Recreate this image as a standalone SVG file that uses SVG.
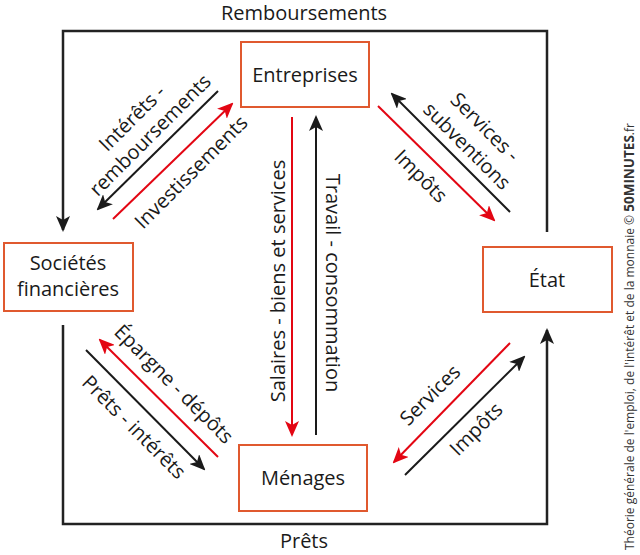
<svg xmlns="http://www.w3.org/2000/svg" width="640" height="555" viewBox="0 0 640 555">
<style>
  .box { fill: #ffffff; stroke: #e0592f; stroke-width: 2; }
  .lbl { font-family: "Open Sans", "DejaVu Sans", sans-serif; font-size: 20px; fill: #1a1a1a; text-anchor: middle; }
  .frame { fill: none; stroke: #222222; stroke-width: 2.5; }
  .k { stroke: #1a1a1a; stroke-width: 2; fill: none; }
  .r { stroke: #e30613; stroke-width: 2; fill: none; }
  .credit { font-family: "Open Sans", "DejaVu Sans", sans-serif; font-size: 12px; fill: #333333; }
</style>
<defs>
  <marker id="ahk" viewBox="0 0 16 14" refX="14" refY="7" markerWidth="16" markerHeight="14" markerUnits="userSpaceOnUse" orient="auto">
    <path d="M16,7 L0,0 L4,7 L0,14 Z" fill="#1a1a1a"/>
  </marker>
  <marker id="ahr" viewBox="0 0 16 14" refX="14" refY="7" markerWidth="16" markerHeight="14" markerUnits="userSpaceOnUse" orient="auto">
    <path d="M16,7 L0,0 L4,7 L0,14 Z" fill="#e30613"/>
  </marker>
</defs>
<rect width="640" height="555" fill="#ffffff"/>

<g id="connectors">
  <path class="frame" d="M547,232 V31 H63 V230" marker-end="url(#ahk)"/>
  <path class="frame" d="M63,325 V524 H547 V330" marker-end="url(#ahk)"/>
  <line class="k" x1="218" y1="91" x2="98" y2="209" marker-end="url(#ahk)"/>
  <line class="r" x1="113" y1="219" x2="232" y2="104" marker-end="url(#ahr)"/>
  <line class="k" x1="510" y1="212" x2="392" y2="94" marker-end="url(#ahk)"/>
  <line class="r" x1="378" y1="106" x2="494" y2="220" marker-end="url(#ahr)"/>
  <line class="r" x1="218" y1="457" x2="100" y2="340" marker-end="url(#ahr)"/>
  <line class="k" x1="86" y1="350" x2="204" y2="469" marker-end="url(#ahk)"/>
  <line class="r" x1="510" y1="343" x2="394" y2="462" marker-end="url(#ahr)"/>
  <line class="k" x1="405" y1="475" x2="524" y2="357" marker-end="url(#ahk)"/>
  <line class="r" x1="292" y1="117" x2="292" y2="435" marker-end="url(#ahr)"/>
  <line class="k" x1="316" y1="435" x2="316" y2="117" marker-end="url(#ahk)"/>
</g>

<g id="connector-labels">
  <text class="lbl" x="304" y="20">Remboursements</text>
  <text class="lbl" x="304" y="548">Prêts</text>
  <text class="lbl" transform="translate(132,118) rotate(-45)" y="7">Intérêts -</text>
  <text class="lbl" transform="translate(150,135) rotate(-45)" y="7">remboursements</text>
  <text class="lbl" transform="translate(191,172) rotate(-45)" y="7">Investissements</text>
  <text class="lbl" transform="translate(485,127) rotate(45)" y="7">Services -</text>
  <text class="lbl" transform="translate(467,146) rotate(45)" y="7">subventions</text>
  <text class="lbl" transform="translate(421,176) rotate(45)" y="7">Impôts</text>
  <text class="lbl" transform="translate(174,384) rotate(45)" y="7">Épargne - dépôts</text>
  <text class="lbl" transform="translate(134,427) rotate(45)" y="7">Prêts - intérêts</text>
  <text class="lbl" transform="translate(430,395) rotate(-45)" y="7">Services</text>
  <text class="lbl" transform="translate(476,429) rotate(-45)" y="7">Impôts</text>
  <text class="lbl" transform="translate(278,281) rotate(-90)" y="7">Salaires - biens et services</text>
  <text class="lbl" transform="translate(333,283) rotate(90)" y="7">Travail - consommation</text>
</g>

<g id="node-entreprises">
  <rect class="box" x="241" y="42" width="128" height="65"/>
  <text class="lbl" x="305" y="82">Entreprises</text>
</g>
<g id="node-societes">
  <rect class="box" x="4" y="243" width="129" height="68"/>
  <text class="lbl" x="68" y="270">Sociétés</text>
  <text class="lbl" x="68" y="296">financières</text>
</g>
<g id="node-etat">
  <rect class="box" x="483" y="247" width="129" height="65"/>
  <text class="lbl" x="547" y="287">État</text>
</g>
<g id="node-menages">
  <rect class="box" x="239" y="445" width="128" height="66"/>
  <text class="lbl" x="303" y="485">Ménages</text>
</g>

<text class="credit" transform="translate(634,550) rotate(-90)">Théorie générale de l'emploi, de l'intérêt et de la monnaie © <tspan font-weight="bold" font-size="13.5px">50MINUTES</tspan>.fr</text>
</svg>
